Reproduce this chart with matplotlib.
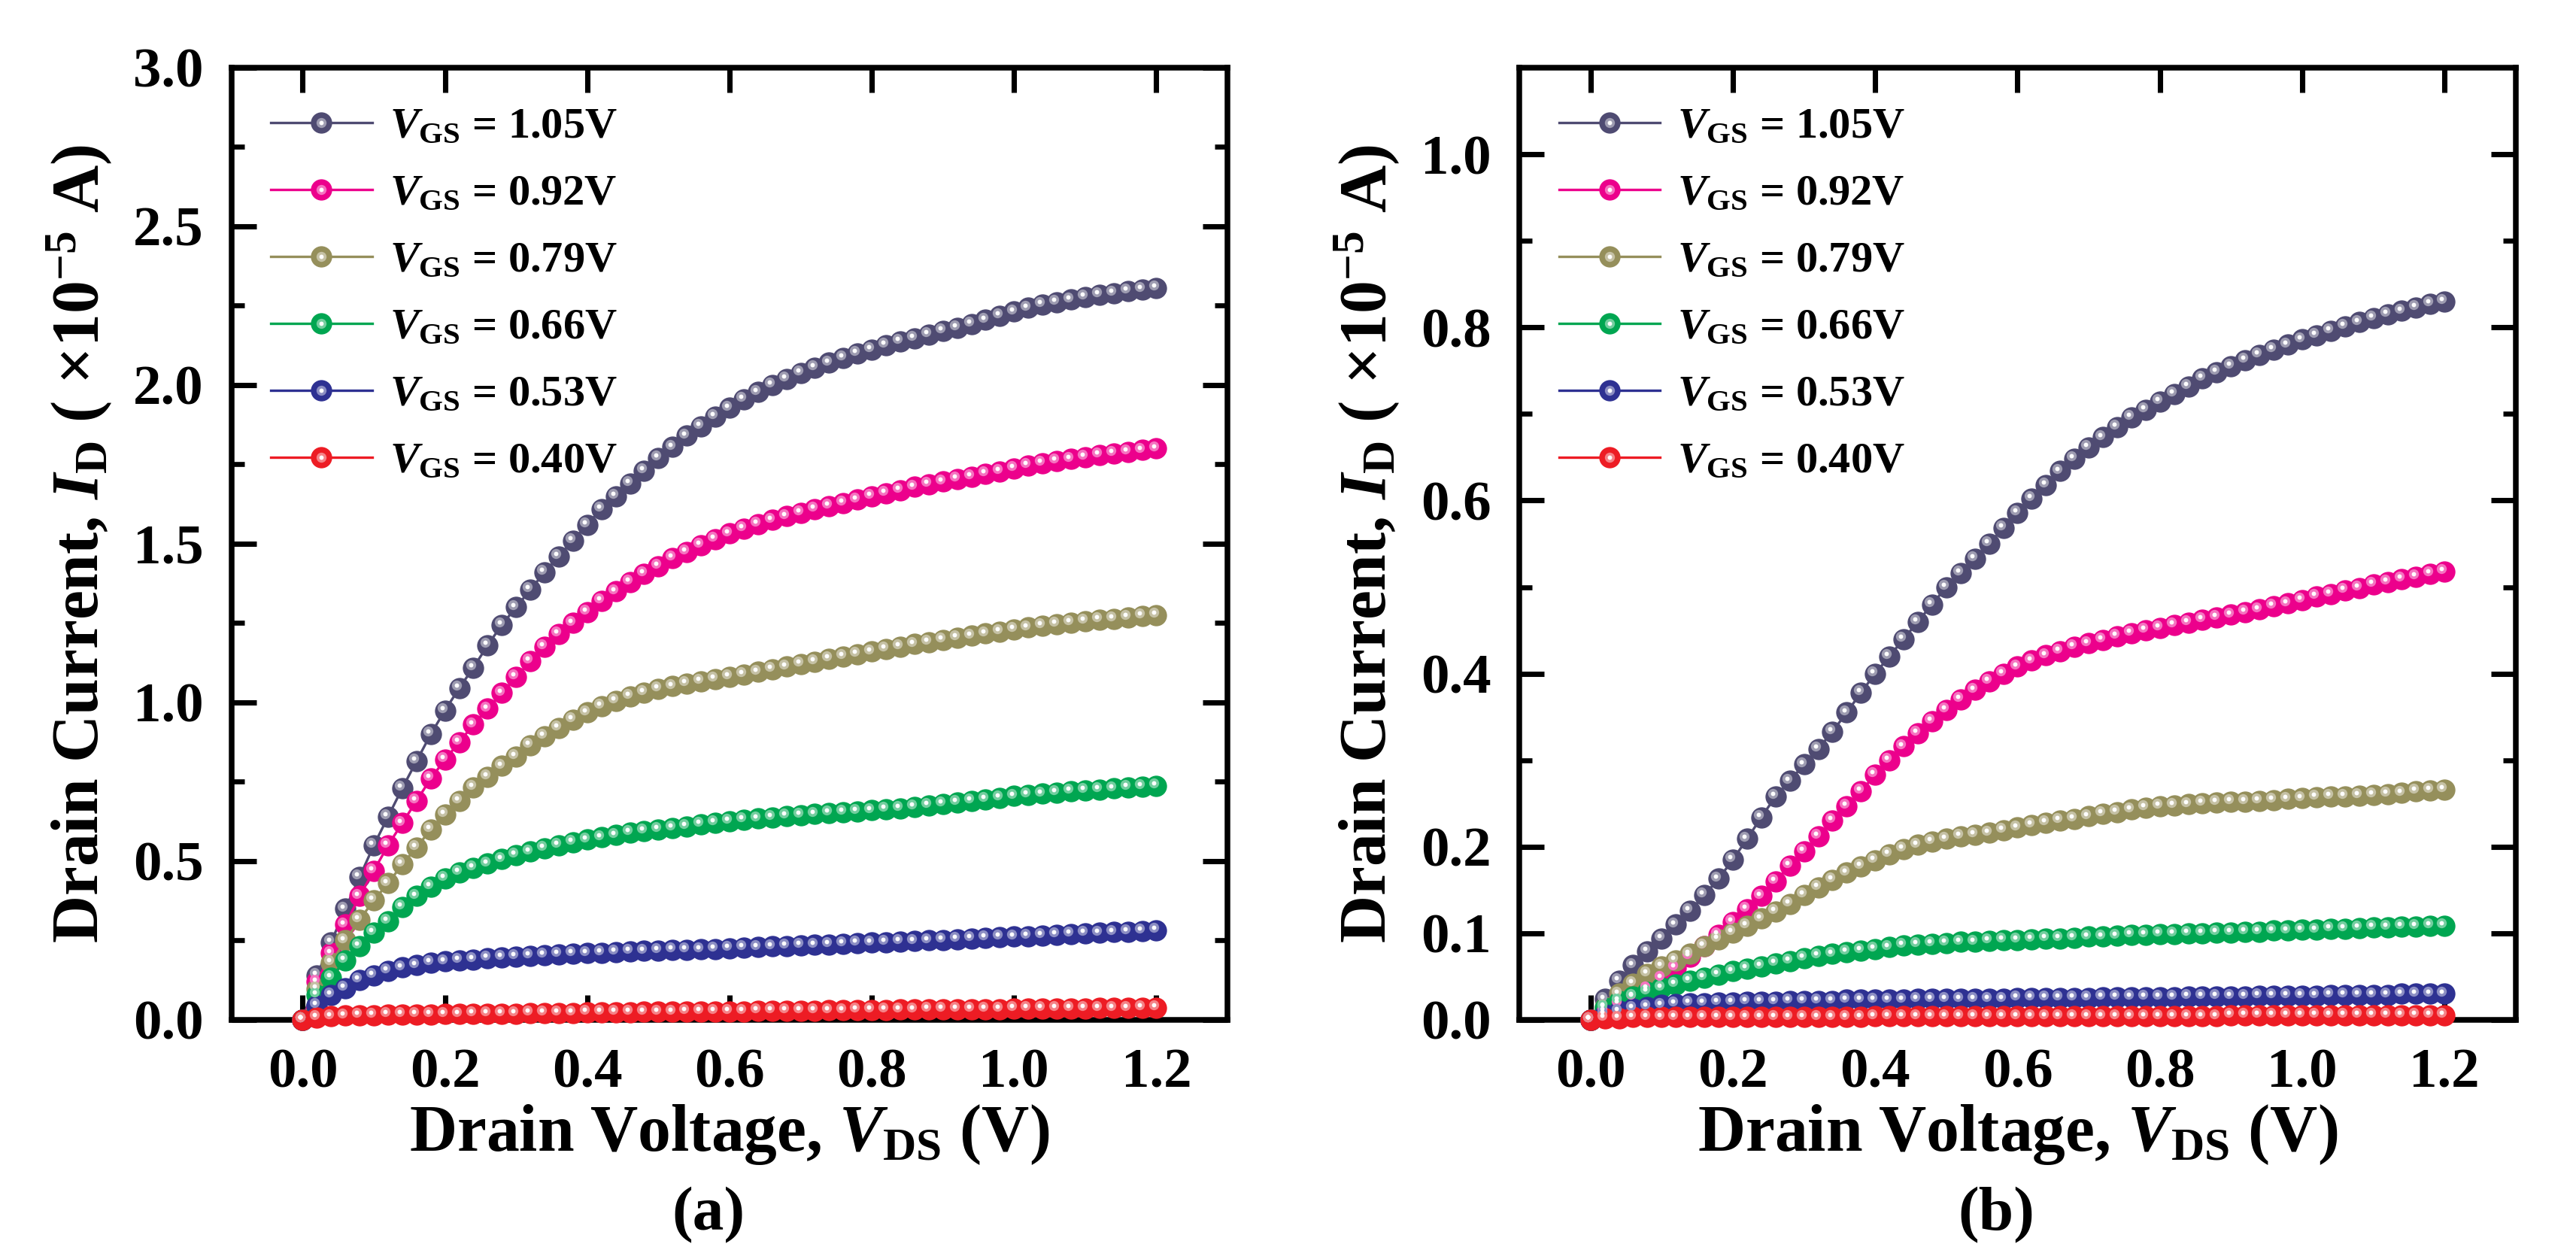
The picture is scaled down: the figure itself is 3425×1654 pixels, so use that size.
import numpy as np
import matplotlib
matplotlib.use('Agg')
import matplotlib.pyplot as plt
from matplotlib import transforms
from matplotlib.ticker import FixedLocator, FormatStrFormatter
from matplotlib.colors import to_rgb

plt.rcParams['font.family'] = ['Liberation Serif', 'DejaVu Serif']
plt.rcParams['font.weight'] = 'bold'
plt.rcParams['axes.labelweight'] = 'bold'
plt.rcParams['mathtext.fontset'] = 'custom'
plt.rcParams['mathtext.rm'] = 'Liberation Serif:bold'
plt.rcParams['mathtext.it'] = 'Liberation Serif:bold:italic'
plt.rcParams['mathtext.bf'] = 'Liberation Serif:bold'

# drain voltage sweep (V)
vds = [0.00, 0.02, 0.04, 0.06, 0.08, 0.10, 0.12, 0.14, 0.16, 0.18,
       0.20, 0.22, 0.24, 0.26, 0.28, 0.30, 0.32, 0.34, 0.36, 0.38,
       0.40, 0.42, 0.44, 0.46, 0.48, 0.50, 0.52, 0.54, 0.56, 0.58,
       0.60, 0.62, 0.64, 0.66, 0.68, 0.70, 0.72, 0.74, 0.76, 0.78,
       0.80, 0.82, 0.84, 0.86, 0.88, 0.90, 0.92, 0.94, 0.96, 0.98,
       1.00, 1.02, 1.04, 1.06, 1.08, 1.10, 1.12, 1.14, 1.16, 1.18,
       1.20]

vgs_labels = ['1.05', '0.92', '0.79', '0.66', '0.53', '0.40']
colors = ['#4F4B72', '#EC008C', '#958F5B', '#00A651', '#2E3192', '#ED1C24']

# panel (a), drain current in 1e-5 A
id_a_105 = [0.000, 0.140, 0.245, 0.350, 0.450, 0.550, 0.640, 0.730, 0.815, 0.900,
            0.975, 1.045, 1.110, 1.180, 1.245, 1.300, 1.355, 1.410, 1.460, 1.510,
            1.560, 1.610, 1.650, 1.690, 1.730, 1.770, 1.805, 1.840, 1.870, 1.900,
            1.928, 1.955, 1.978, 2.000, 2.020, 2.038, 2.055, 2.070, 2.085, 2.099,
            2.112, 2.125, 2.137, 2.148, 2.159, 2.170, 2.180, 2.192, 2.205, 2.218,
            2.231, 2.243, 2.253, 2.261, 2.269, 2.277, 2.284, 2.290, 2.296, 2.301,
            2.306]
id_a_092 = [0.000, 0.120, 0.210, 0.300, 0.390, 0.470, 0.550, 0.620, 0.690, 0.760,
            0.820, 0.875, 0.930, 0.980, 1.030, 1.080, 1.130, 1.175, 1.215, 1.250,
            1.285, 1.320, 1.350, 1.380, 1.405, 1.430, 1.455, 1.475, 1.495, 1.514,
            1.532, 1.548, 1.562, 1.575, 1.587, 1.598, 1.609, 1.619, 1.629, 1.639,
            1.649, 1.659, 1.669, 1.679, 1.688, 1.696, 1.704, 1.712, 1.720, 1.728,
            1.737, 1.746, 1.753, 1.760, 1.767, 1.773, 1.779, 1.785, 1.790, 1.795,
            1.800]
id_a_079 = [0.000, 0.097, 0.180, 0.250, 0.315, 0.377, 0.430, 0.490, 0.543, 0.600,
            0.647, 0.690, 0.733, 0.765, 0.800, 0.830, 0.865, 0.893, 0.920, 0.945,
            0.968, 0.988, 1.005, 1.019, 1.031, 1.042, 1.051, 1.059, 1.066, 1.073,
            1.080, 1.088, 1.096, 1.104, 1.113, 1.121, 1.129, 1.137, 1.145, 1.152,
            1.160, 1.168, 1.176, 1.184, 1.190, 1.197, 1.204, 1.210, 1.217, 1.223,
            1.230, 1.236, 1.242, 1.247, 1.251, 1.256, 1.260, 1.264, 1.268, 1.272,
            1.275]
id_a_066 = [0.000, 0.078, 0.133, 0.188, 0.232, 0.275, 0.310, 0.355, 0.390, 0.420,
            0.445, 0.464, 0.478, 0.492, 0.506, 0.520, 0.530, 0.540, 0.550, 0.560,
            0.568, 0.575, 0.582, 0.590, 0.595, 0.600, 0.605, 0.610, 0.616, 0.621,
            0.626, 0.630, 0.634, 0.638, 0.642, 0.645, 0.648, 0.651, 0.654, 0.657,
            0.660, 0.663, 0.666, 0.670, 0.675, 0.680, 0.685, 0.690, 0.695, 0.700,
            0.705, 0.709, 0.712, 0.716, 0.720, 0.723, 0.726, 0.729, 0.732, 0.735,
            0.737]
id_a_053 = [0.000, 0.045, 0.078, 0.100, 0.125, 0.140, 0.155, 0.165, 0.172, 0.180,
            0.184, 0.188, 0.190, 0.194, 0.197, 0.200, 0.202, 0.204, 0.206, 0.208,
            0.210, 0.211, 0.213, 0.215, 0.217, 0.219, 0.220, 0.221, 0.222, 0.223,
            0.225, 0.227, 0.229, 0.231, 0.233, 0.235, 0.236, 0.238, 0.240, 0.241,
            0.243, 0.245, 0.246, 0.248, 0.250, 0.252, 0.254, 0.256, 0.258, 0.260,
            0.262, 0.264, 0.266, 0.268, 0.270, 0.272, 0.274, 0.276, 0.278, 0.280,
            0.282]
id_a_040 = [0.000, 0.008, 0.011, 0.013, 0.014, 0.015, 0.016, 0.016, 0.017, 0.017,
            0.018, 0.018, 0.019, 0.019, 0.020, 0.020, 0.021, 0.021, 0.022, 0.022,
            0.023, 0.023, 0.024, 0.024, 0.025, 0.025, 0.025, 0.026, 0.026, 0.027,
            0.027, 0.027, 0.028, 0.028, 0.029, 0.029, 0.029, 0.030, 0.030, 0.031,
            0.031, 0.031, 0.032, 0.032, 0.033, 0.033, 0.033, 0.034, 0.034, 0.034,
            0.035, 0.035, 0.035, 0.036, 0.036, 0.036, 0.037, 0.037, 0.037, 0.038,
            0.038]

# panel (b), drain current in 1e-5 A
id_b_105 = [0.000, 0.024, 0.045, 0.063, 0.079, 0.094, 0.110, 0.126, 0.144, 0.163,
            0.185, 0.209, 0.234, 0.258, 0.276, 0.295, 0.313, 0.333, 0.355, 0.378,
            0.400, 0.420, 0.440, 0.460, 0.480, 0.500, 0.516, 0.533, 0.550, 0.568,
            0.586, 0.602, 0.618, 0.634, 0.648, 0.661, 0.673, 0.685, 0.696, 0.705,
            0.714, 0.723, 0.732, 0.741, 0.748, 0.755, 0.762, 0.768, 0.774, 0.780,
            0.786, 0.791, 0.796, 0.801, 0.806, 0.811, 0.815, 0.819, 0.823, 0.827,
            0.830]
id_b_092 = [0.000, 0.010, 0.018, 0.026, 0.036, 0.048, 0.060, 0.073, 0.085, 0.098,
            0.113, 0.128, 0.143, 0.160, 0.178, 0.195, 0.212, 0.230, 0.247, 0.264,
            0.283, 0.300, 0.316, 0.331, 0.345, 0.358, 0.370, 0.381, 0.391, 0.400,
            0.408, 0.415, 0.421, 0.426, 0.431, 0.435, 0.439, 0.443, 0.447, 0.450,
            0.453, 0.456, 0.459, 0.462, 0.465, 0.468, 0.471, 0.474, 0.478, 0.481,
            0.485, 0.489, 0.492, 0.496, 0.499, 0.503, 0.506, 0.509, 0.512, 0.515,
            0.518]
id_b_079 = [0.000, 0.015, 0.030, 0.042, 0.053, 0.062, 0.069, 0.076, 0.085, 0.093,
            0.101, 0.109, 0.117, 0.125, 0.134, 0.144, 0.153, 0.162, 0.170, 0.177,
            0.184, 0.191, 0.197, 0.202, 0.206, 0.209, 0.212, 0.214, 0.216, 0.219,
            0.222, 0.225, 0.228, 0.230, 0.232, 0.235, 0.238, 0.240, 0.243, 0.245,
            0.247, 0.248, 0.249, 0.250, 0.251, 0.252, 0.252, 0.253, 0.254, 0.255,
            0.256, 0.257, 0.258, 0.258, 0.259, 0.260, 0.261, 0.262, 0.264, 0.265,
            0.266]
id_b_066 = [0.000, 0.014, 0.022, 0.027, 0.032, 0.037, 0.041, 0.045, 0.049, 0.052,
            0.056, 0.059, 0.062, 0.065, 0.068, 0.071, 0.074, 0.076, 0.078, 0.080,
            0.082, 0.084, 0.086, 0.087, 0.088, 0.089, 0.090, 0.090, 0.091, 0.092,
            0.092, 0.093, 0.094, 0.094, 0.095, 0.096, 0.096, 0.097, 0.098, 0.098,
            0.099, 0.099, 0.100, 0.100, 0.101, 0.101, 0.102, 0.102, 0.103, 0.103,
            0.104, 0.104, 0.105, 0.105, 0.106, 0.107, 0.107, 0.108, 0.108, 0.109,
            0.109]
id_b_053 = [0.000, 0.006, 0.010, 0.013, 0.015, 0.017, 0.018, 0.019, 0.019, 0.020,
            0.020, 0.021, 0.021, 0.021, 0.022, 0.022, 0.022, 0.022, 0.023, 0.023,
            0.023, 0.023, 0.023, 0.024, 0.024, 0.024, 0.024, 0.024, 0.024, 0.024,
            0.025, 0.025, 0.025, 0.025, 0.025, 0.025, 0.026, 0.026, 0.026, 0.026,
            0.026, 0.026, 0.027, 0.027, 0.027, 0.027, 0.027, 0.028, 0.028, 0.028,
            0.028, 0.028, 0.029, 0.029, 0.029, 0.029, 0.029, 0.030, 0.030, 0.030,
            0.030]
id_b_040 = [0.000, 0.002, 0.002, 0.003, 0.003, 0.003, 0.003, 0.003, 0.003, 0.003,
            0.003, 0.003, 0.003, 0.003, 0.003, 0.003, 0.003, 0.003, 0.003, 0.003,
            0.004, 0.004, 0.004, 0.004, 0.004, 0.004, 0.004, 0.004, 0.004, 0.004,
            0.004, 0.004, 0.004, 0.004, 0.004, 0.004, 0.004, 0.004, 0.004, 0.004,
            0.004, 0.004, 0.004, 0.004, 0.004, 0.005, 0.005, 0.005, 0.005, 0.005,
            0.005, 0.005, 0.005, 0.005, 0.005, 0.005, 0.005, 0.005, 0.005, 0.005,
            0.005]

series_a = [id_a_105, id_a_092, id_a_079, id_a_066, id_a_053, id_a_040]
series_b = [id_b_105, id_b_092, id_b_079, id_b_066, id_b_053, id_b_040]


def lighten(c, f):
    r, g, b = to_rgb(c)
    return (r + (1 - r) * f, g + (1 - g) * f, b + (1 - b) * f)


fig = plt.figure(figsize=(3425 / 300, 1654 / 300), dpi=300)
ax_a = fig.add_axes([0.0899, 0.1802, 0.3866, 0.7654])
ax_b = fig.add_axes([0.5898, 0.1802, 0.3868, 0.7654])


def draw_panel(ax, data, ylim, yticks, yminor, tag):
    # small offset copy so the highlight sits up-left like a shaded ball
    shine = transforms.offset_copy(ax.transData, fig=fig, x=-0.9, y=0.9, units='points')
    handles = []
    for vals, col, lab in zip(data, colors, vgs_labels):
        ln, = ax.plot(vds, vals, '-', color=col, lw=0.8, marker='o', ms=6.8,
                      mec=col, mfc=col, mew=0, zorder=3, clip_on=False)
        hl, = ax.plot(vds, vals, ls='none', marker='o', ms=3.2, mew=0,
                      mfc=lighten(col, 0.45), transform=shine, zorder=3.1, clip_on=False)
        hw, = ax.plot(vds, vals, ls='none', marker='o', ms=1.4, mew=0,
                      mfc='white', transform=shine, zorder=3.2, clip_on=False)
        handles.append((ln, hl, hw))
    ax.legend(handles, [r'$V_{\mathrm{GS}}$ = ' + l + 'V' for l in vgs_labels],
              loc='upper left', frameon=False, fontsize=14, handlelength=2.3,
              handletextpad=0.4, labelspacing=0.62, borderaxespad=0.4,
              borderpad=0.5, markerscale=1.0)

    ax.set_xlim(-0.1, 1.3)
    ax.set_ylim(*ylim)
    ax.xaxis.set_major_locator(FixedLocator([0.0, 0.2, 0.4, 0.6, 0.8, 1.0, 1.2]))
    ax.yaxis.set_major_locator(FixedLocator(yticks))
    ax.yaxis.set_minor_locator(FixedLocator(yminor))
    ax.xaxis.set_major_formatter(FormatStrFormatter('%.1f'))
    ax.yaxis.set_major_formatter(FormatStrFormatter('%.1f'))
    ax.tick_params(which='both', direction='in', top=True, right=True, labelsize=18)
    ax.tick_params(which='major', length=8, width=1.7, pad=9)
    ax.tick_params(which='minor', length=4, width=1.6)
    for s in ax.spines.values():
        s.set_linewidth(1.8)

    ax.set_xlabel(r'Drain Voltage, $V_{\mathrm{DS}}$ (V)', fontsize=21,
                  fontweight='bold', labelpad=1)
    ax.set_ylabel(r'Drain Current, $I_{\mathrm{D}}$ ( ×10$^{\mathrm{-5}}$ A)', fontsize=21,
                  fontweight='bold', labelpad=6)
    ax.text(0.479, -0.205, tag, transform=ax.transAxes, ha='center', va='center',
            fontsize=20, fontweight='bold')


draw_panel(ax_a, series_a, (0, 3.0), [0.0, 0.5, 1.0, 1.5, 2.0, 2.5, 3.0],
           [0.25, 0.75, 1.25, 1.75, 2.25, 2.75], '(a)')
draw_panel(ax_b, series_b, (0, 1.1), [0.0, 0.1, 0.2, 0.4, 0.6, 0.8, 1.0],
           [0.3, 0.5, 0.7, 0.9], '(b)')

fig.savefig('out.png', dpi=300)
